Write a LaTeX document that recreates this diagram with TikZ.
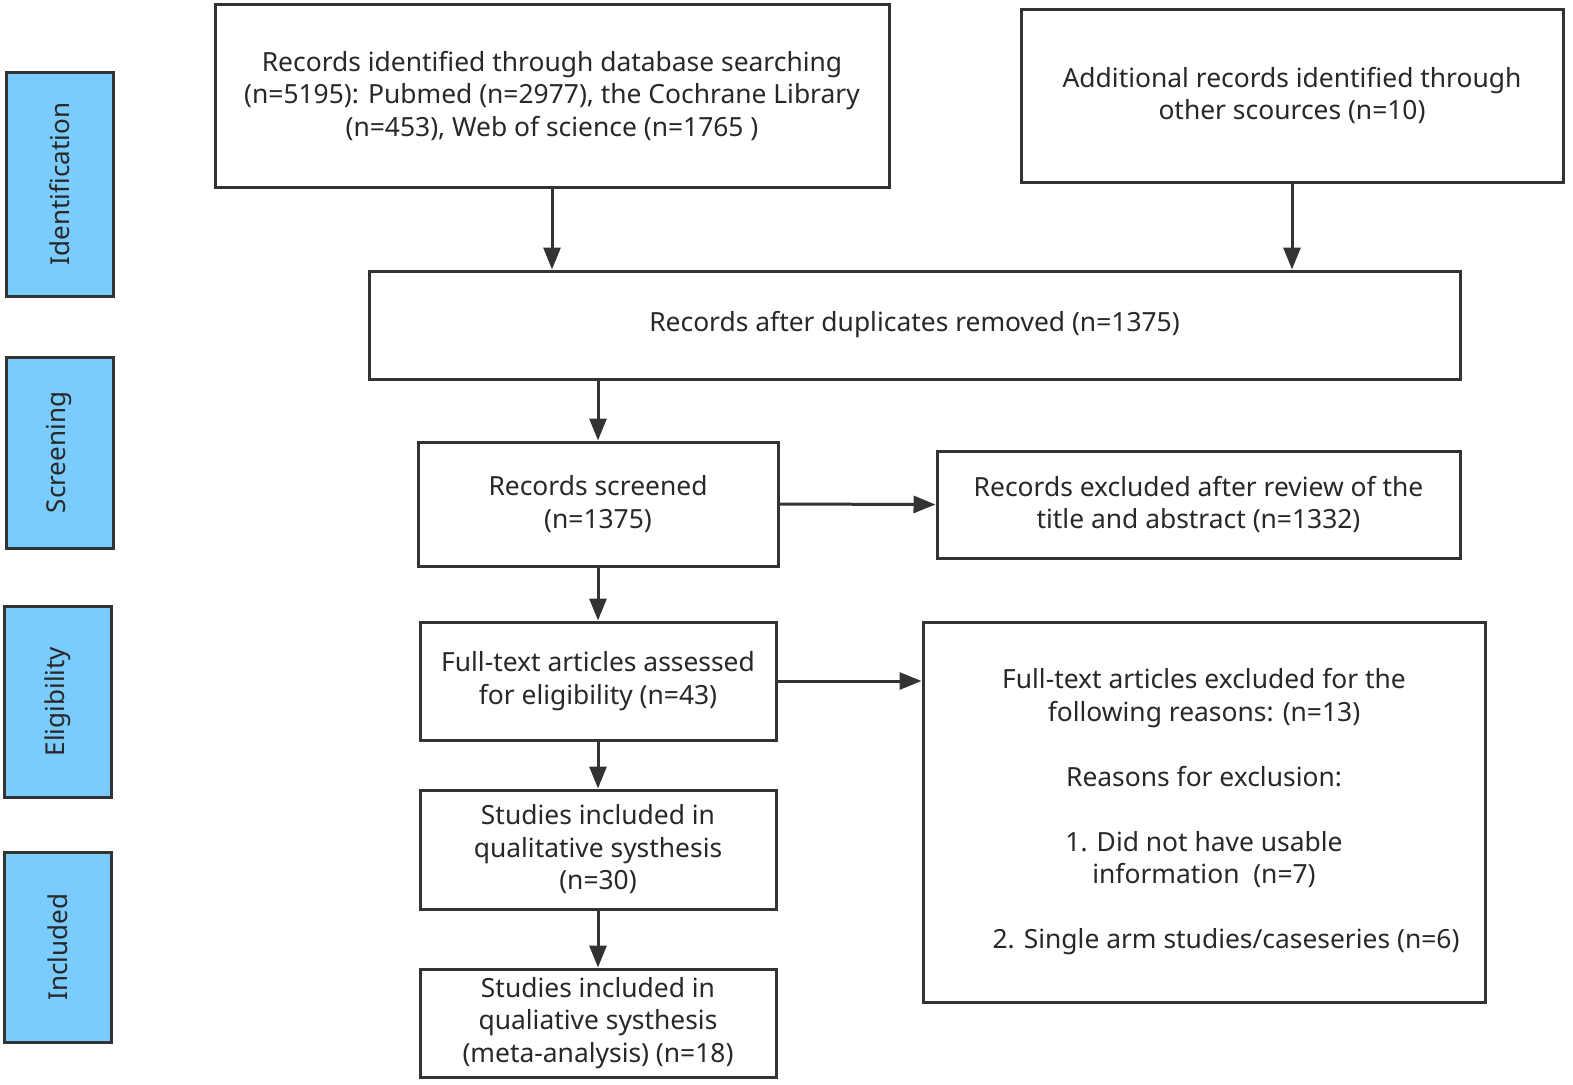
\documentclass[tikz,border=0pt]{standalone}
\usepackage{fontspec}
\setmainfont{Noto Sans}
\usetikzlibrary{arrows.meta,positioning,calc}
\definecolor{lineC}{RGB}{51,51,51}
\definecolor{textC}{RGB}{40,40,40}
\definecolor{phaseC}{RGB}{122,204,255}
\tikzset{
  box/.style={draw=lineC, line width=1.5pt, fill=white, align=center, inner sep=0pt, text=textC,
    font=\fontsize{13.2}{16.25}\selectfont},
  phase/.style={draw=lineC, line width=1.5pt, fill=phaseC, inner sep=0pt, text=textC},
  phasetext/.style={rotate=90, text=textC, font=\fontsize{13}{16.25}\selectfont},
  arr/.style={draw=lineC, line width=1.5pt, -{Triangle[length=11pt,width=8.5pt]}},
}
\begin{document}
\begin{tikzpicture}[x=0.5pt,y=-0.5pt]
\useasboundingbox (0,0) rectangle (1573,1084);
% phase labels
\node[phase, minimum width=53.5pt, minimum height=112pt] (pid) at (59.5,184) {};
\node[phasetext] (pidt) at (pid.center) {Identification};
\node[phase, minimum width=53.5pt, minimum height=95.5pt] (psc) at (59.5,452.5) {};
\node[phasetext] (psct) at (psc.center) {Screening};
\node[phase, minimum width=53.5pt, minimum height=95.5pt] (pel) at (57.5,701.5) {};
\node[phasetext] (pelt) at (pel.center) {Eligibility};
\node[phase, minimum width=53.5pt, minimum height=95pt] (pin) at (57.5,947) {};
\node[phasetext] (pint) at (pin.center) {Included};
% main boxes
\node[box, minimum width=337pt, minimum height=91.5pt] (b1) at (552,95.5)
  {Records identified through database searching\\(n=5195): Pubmed (n=2977), the Cochrane Library\\(n=453), Web of science (n=1765 )};
\node[box, minimum width=271pt, minimum height=86.5pt] (b2) at (1292,95.5)
  {Additional records identified through\\other scources (n=10)};
\node[box, minimum width=545.5pt, minimum height=54pt] (b3) at (914.5,325)
  {Records after duplicates removed (n=1375)};
\node[box, minimum width=180pt, minimum height=62pt] (scr) at (598,504)
  {Records screened\\(n=1375)};
\node[box, minimum width=261.5pt, minimum height=53.5pt] (exc) at (1198.5,504.5)
  {Records excluded after review of the\\title and abstract (n=1332)};
\node[box, minimum width=178pt, minimum height=59pt] (ft) at (598,681)
  {Full-text articles assessed\\for eligibility (n=43)};
\node[box, minimum width=281pt, minimum height=190pt] (fex) at (1204,812)
  {Full-text articles excluded for the\\following reasons: (n=13)\\[16.25pt]
   Reasons for exclusion:\\[16.25pt]
   1. Did not have usable\\information\ \ (n=7)\\[16.25pt]
   \hspace*{22pt}2. Single arm studies/caseseries (n=6)};
\node[box, minimum width=178pt, minimum height=59.5pt] (qual) at (598,849.5)
  {Studies included in\\qualitative systhesis\\(n=30)};
\node[box, minimum width=178pt, minimum height=54pt] (meta) at (598,1023)
  {Studies included in\\qualiative systhesis\\(meta-analysis) (n=18)};
% connectors
\draw[arr] (b1.south) -- (b1.south |- b3.north);
\draw[arr] (b2.south) -- (b2.south |- b3.north);
\draw[arr] (scr.north |- b3.south) -- (scr.north);
\draw[arr] (scr.east) -- (exc.west);
\draw[arr] (scr.south) -- (ft.north);
\draw[arr] (ft.east) -- (ft.east -| fex.west);
\draw[arr] (ft.south) -- (qual.north);
\draw[arr] (qual.south) -- (meta.north);
\end{tikzpicture}
\end{document}
